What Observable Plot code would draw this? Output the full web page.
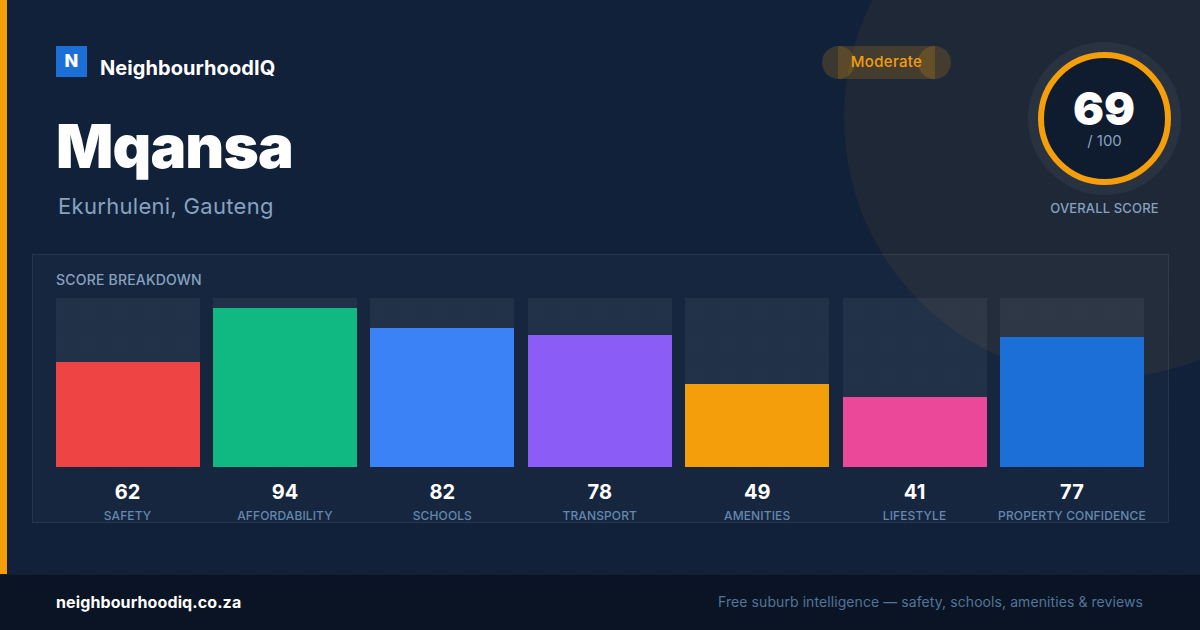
<!DOCTYPE html>
<html>
<head>
<meta charset="utf-8">
<script src="https://cdn.jsdelivr.net/npm/d3@7"></script>
<script src="https://cdn.jsdelivr.net/npm/@observablehq/plot@0.6"></script>
<style>
*{box-sizing:border-box;margin:0;padding:0}
html,body{width:1200px;height:630px;overflow:hidden;background:#11213a;font-family:Inter,sans-serif}
#page{position:absolute;left:0;top:0;width:1200px;height:630px;overflow:hidden;background:#11213a}
#dots{position:absolute;inset:0;background-image:radial-gradient(circle at 24px 24px,rgba(255,255,255,.035) 1px,transparent 1.5px);background-size:32px 32px}
#blob{position:absolute;left:844px;top:-142px;width:520px;height:520px;border-radius:50%;background:rgba(245,158,11,.06)}
#stripe{position:absolute;left:0;top:0;width:7px;height:630px;background:#f59e0b}
#panel{position:absolute;left:32px;top:254px;width:1137px;height:269px;background:rgba(255,255,255,.025);border:1px solid rgba(255,255,255,.07)}
#logo{position:absolute;left:56px;top:46px;width:31px;height:31px;background:#1d6fd8;color:#fff;font-weight:800;font-size:18px;line-height:29px;text-align:center}
.t{position:absolute;white-space:nowrap}
#brand{left:100px;top:55px;font-size:20px;line-height:26px;font-weight:700;color:#fff;letter-spacing:.07px}
#title{left:56px;top:107px;font-size:60px;line-height:78px;font-weight:900;color:#fff;letter-spacing:-.85px}
#sub{left:58px;top:192px;font-size:22px;line-height:28px;font-weight:400;color:#87a2c0;letter-spacing:.3px}
.pill{position:absolute;top:46px;height:33px;background:rgba(245,158,11,.18)}
#pill-l,#pill-r{width:33px;border-radius:50%}
#pill-l{left:822px}#pill-r{left:918px}
#pill-m{left:838px;width:97px}
#pilltext{left:838px;width:97px;text-align:center;top:52px;font-size:15px;line-height:20px;font-weight:500;color:#f59e0b;letter-spacing:.3px}
#ring{position:absolute;left:1038px;top:52px;width:133px;height:133px;border-radius:50%;border:6px solid #f59e0b;background:#0f1b2e;box-shadow:0 0 0 10px rgba(255,255,255,.05)}
#score{left:1037.5px;width:133px;text-align:center;top:85px;font-size:46px;line-height:46px;font-weight:900;color:#fff}
#of{left:1038px;width:133px;text-align:center;top:132px;font-size:15px;line-height:18px;color:#87a2c0}
#overall{left:1005px;width:199px;text-align:center;top:199px;font-size:13px;line-height:18px;font-weight:500;color:#87a2c0;letter-spacing:.15px}
#head{left:56px;top:271px;font-size:14px;line-height:18px;font-weight:500;color:#87a2c0;letter-spacing:.2px}
#chart{position:absolute;left:0;top:298px}
#chart svg{display:block;background:transparent;overflow:visible}
#footer{position:absolute;left:0;top:574px;width:1200px;height:56px;background:#0a1424;border-top:1px solid rgba(255,255,255,.05)}
#site{left:56px;top:592px;font-size:16px;line-height:20px;font-weight:700;color:#fff;letter-spacing:.11px}
#tag{right:57px;top:593px;font-size:14px;line-height:18px;color:#527599;letter-spacing:.08px}
</style>
</head>
<body>
<div id="page">
  <div id="dots"></div>
  <div id="blob"></div>
  <div id="stripe"></div>
  <div id="panel"></div>
  <div id="logo">N</div>
  <div class="t" id="brand"></div>
  <div class="t" id="title"></div>
  <div class="t" id="sub"></div>
  <div class="pill" id="pill-l"></div><div class="pill" id="pill-r"></div><div class="pill" id="pill-m"></div>
  <div class="t" id="pilltext"></div>
  <div id="ring"></div>
  <div class="t" id="score"></div>
  <div class="t" id="of">/ 100</div>
  <div class="t" id="overall">OVERALL SCORE</div>
  <div class="t" id="head">SCORE BREAKDOWN</div>
  <div id="chart"></div>
  <div id="footer"></div>
  <div class="t" id="site"></div>
  <div class="t" id="tag"></div>
</div>
<script>
const categories = ["SAFETY","AFFORDABILITY","SCHOOLS","TRANSPORT","AMENITIES","LIFESTYLE","PROPERTY CONFIDENCE"];
const scores = [62,94,82,78,49,41,77];
const colors = ["#ef4444","#10b981","#3b82f6","#8b5cf6","#f59e0b","#ec4899","#1d6fd8"];
const scoreMax = 100;
const overallScore = 69;
const suburb = "Mqansa";
const region = "Ekurhuleni, Gauteng";
const brand = "NeighbourhoodIQ";
const band = "Moderate";
const site = "neighbourhoodiq.co.za";
const tagline = "Free suburb intelligence — safety, schools, amenities & reviews";

document.getElementById("brand").textContent = brand;
document.getElementById("title").textContent = suburb;
document.getElementById("sub").textContent = region;
document.getElementById("pilltext").textContent = band;
document.getElementById("score").textContent = overallScore;
document.getElementById("site").textContent = site;
document.getElementById("tag").textContent = tagline;

const rows = categories.map((c,i)=>({category:c,score:scores[i],color:colors[i],max:scoreMax}));

const chart = Plot.plot({
  width:1200,
  height:225,
  marginLeft:56,marginRight:56,marginTop:0,marginBottom:56,
  style:{background:"transparent",fontFamily:"Inter, sans-serif",overflow:"visible"},
  x:{type:"band",domain:categories,range:[55.65,1144.05],paddingInner:0.08513,paddingOuter:0,round:false,axis:null},
  y:{domain:[0,scoreMax],range:[168.7,-0.3],axis:null},
  marks:[
    Plot.barY(rows,{x:"category",y:"max",fill:"rgba(255,255,255,.05)",shapeRendering:"crispEdges"}),
    Plot.barY(rows,{x:"category",y:"score",fill:"color",shapeRendering:"crispEdges"}),
    Plot.text(rows,{x:"category",y:0,text:d=>String(d.score),dy:25.3,dx:-0.6,fill:"#fff",fontSize:20,fontWeight:700}),
    Plot.text(rows,{x:"category",y:0,text:"category",dy:49.3,dx:-0.6,fill:"#6488ae",fontSize:12,fontWeight:500})
  ]
});
d3.select(chart).selectAll("text").filter(function(){return categories.includes(this.textContent)}).style("letter-spacing","0.12px");
document.getElementById("chart").appendChild(chart);
</script>
</body>
</html>
